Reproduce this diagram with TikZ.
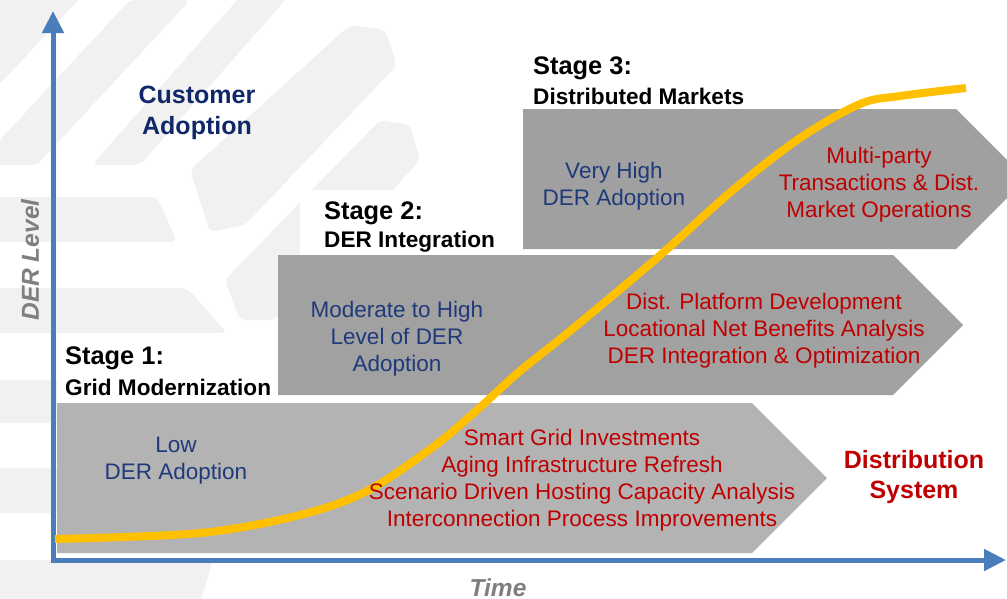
\documentclass[tikz,border=0pt]{standalone}
\usepackage{fontspec}
\setmainfont{Liberation Sans}
\usetikzlibrary{arrows.meta}
\definecolor{axisblue}{HTML}{4A7EBB}
\definecolor{wmgray}{HTML}{F1F1F1}
\definecolor{stageone}{HTML}{B3B3B3}
\definecolor{stagetwo}{HTML}{A1A1A1}
\definecolor{stagethree}{HTML}{A0A0A0}
\definecolor{curvegold}{HTML}{FFC000}
\definecolor{navytext}{HTML}{10286A}
\definecolor{bluetext}{HTML}{1F3A7A}
\definecolor{redtext}{HTML}{C00000}
\definecolor{axislabel}{HTML}{7F7F7F}
\tikzset{
  wm/.style={fill=wmgray, rounded corners=6pt},
  axisline/.style={draw=axisblue, line width=5pt, line join=miter, {Triangle[length=22pt,width=21pt]}-{Triangle[length=22pt,width=21pt]}},
  goldcurve/.style={draw=curvegold, line width=8pt, line cap=butt},
  bluelbl/.style={text=bluetext, align=center, font=\fontsize{22.5}{27}\selectfont, inner sep=0pt},
  redlbl/.style={text=redtext, align=center, font=\fontsize{22.5}{27}\selectfont, inner sep=0pt},
  stagehead/.style={text=black, anchor=west, font=\bfseries\fontsize{25.4}{30}\selectfont, inner sep=0pt},
  stagesub/.style={text=black, anchor=west, font=\bfseries\fontsize{22.6}{27}\selectfont, inner sep=0pt},
  biglbl/.style={align=center, font=\bfseries\fontsize{25}{30.5}\selectfont, inner sep=0pt},
  axislbl/.style={text=axislabel, font=\bfseries\itshape\fontsize{24.5}{29}\selectfont, inner sep=0pt},
  titlebg/.style={fill=white, draw=none}
}
\begin{document}
\begin{tikzpicture}[x=1pt,y=-1pt]
\useasboundingbox (0,0) rectangle (1007,598);
\fill[white] (0,0) rectangle (1007,598);
\begin{scope}
\clip (0,0) rectangle (1007,598);
% watermark
\fill[wmgray] (0,0)--(78,0)--(0,84)--cycle;
\fill[wm] (0,140)--(130,0)--(190,0)--(37,165)--(-10,165)--cycle;
\fill[wm] (246,-10)--(294,-10)--(140,165)--(92,165)--cycle;
\fill[wm] (190,170)--(350,25)--(385,30)--(397,65)--(245,225)--(210,232)--cycle;
\fill[wm] (225,280)--(380,120)--(410,125)--(420,160)--(275,320)--(240,320)--cycle;
\fill[wm] (-10,197)--(157,197)--(177,242)--(-10,242)--cycle;
\fill[wm] (-10,288)--(187,288)--(227,333)--(-10,333)--cycle;
\fill[wmgray] (0,380) rectangle (60,423);
\fill[wmgray] (0,468) rectangle (60,513);
\fill[wm] (-10,560)--(213,560)--(198,610)--(-10,610)--cycle;
% title backgrounds
\fill[titlebg] (57,335) rectangle (278,403);
\fill[titlebg] (300,190) rectangle (523,255);
\fill[titlebg] (523,45) rectangle (760,109);
% stage arrows
\fill[stageone] (57,403)--(752,403)--(827,478)--(752,553)--(57,553)--cycle;
\fill[stagetwo] (278,255)--(893,255)--(963,325)--(893,395)--(278,395)--cycle;
\fill[stagethree] (523,109)--(956,109)--(1026,179)--(956,249)--(523,249)--cycle;
\end{scope}
% axes
\coordinate (ytip) at (53,11);
\coordinate (origin) at (53,560);
\coordinate (xtip) at (1006,560);
\draw[axisline] (ytip) -- (origin) -- (xtip);
% adoption curve
\coordinate (cstart) at (55,539);
\coordinate (cend) at (966,88);
\draw[goldcurve] plot[smooth, tension=0.55] coordinates {(cstart) (200,533) (300,515) (367,491) (433,447) (477,410) (520,371) (570,331) (657,258) (733,190) (800,138) (860,104) (900,96) (cend)};
% texts
\node[biglbl, text=navytext] (cust) at (197,113) {Customer\\Adoption};
\node[biglbl, text=redtext] (dist) at (914,477) {Distribution\\System};
\node[axislbl, rotate=90] (ylbl) at (30,260) {DER Level};
\node[axislbl] (xlbl) at (498,588) {Time};
\node[stagehead] (s1h) at (65,358) {Stage 1:};
\node[stagesub] (s1s) at (65,387) {Grid Modernization};
\node[stagehead] (s2h) at (324,213) {Stage 2:};
\node[stagesub] (s2s) at (324,242) {DER Integration};
\node[stagehead] (s3h) at (533,68) {Stage 3:};
\node[stagesub] (s3s) at (533,96) {Distributed Markets};
\node[bluelbl] (s1b) at (176,461) {Low\\DER Adoption};
\node[bluelbl] (s2b) at (397,339) {Moderate to High\\Level of DER\\Adoption};
\node[bluelbl] (s3b) at (614,186) {Very High\\DER Adoption};
\node[redlbl] (s1r) at (582,480) {Smart Grid Investments\\Aging Infrastructure Refresh\\Scenario Driven Hosting Capacity Analysis\\Interconnection Process Improvements};
\node[redlbl] (s2r) at (764,331) {Dist. Platform Development\\Locational Net Benefits Analysis\\DER Integration \& Optimization};
\node[redlbl] (s3r) at (879,185) {Multi-party\\Transactions \& Dist.\\Market Operations};
\end{tikzpicture}
\end{document}
